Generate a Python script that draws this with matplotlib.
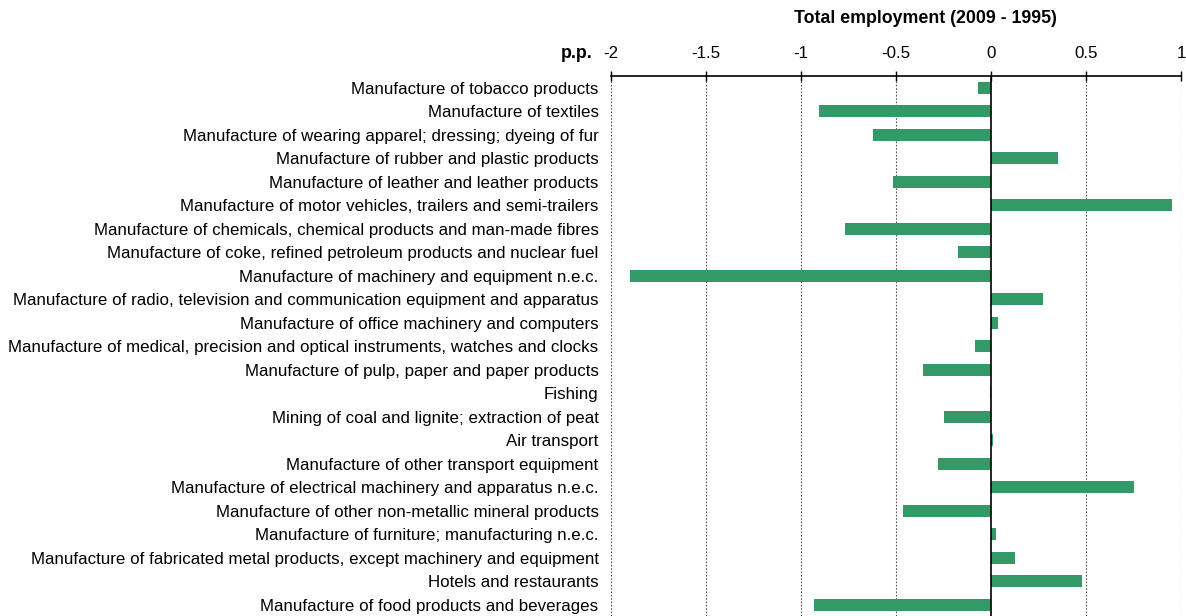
import matplotlib
matplotlib.use("Agg")
import matplotlib.pyplot as plt

plt.rcParams['font.family'] = ['Liberation Sans', 'DejaVu Sans']

sectors = [
    "Manufacture of tobacco products",
    "Manufacture of textiles",
    "Manufacture of wearing apparel; dressing; dyeing of fur",
    "Manufacture of rubber and plastic products",
    "Manufacture of leather and leather products",
    "Manufacture of motor vehicles, trailers and semi-trailers",
    "Manufacture of chemicals, chemical products and man-made fibres",
    "Manufacture of coke, refined petroleum products and nuclear fuel",
    "Manufacture of machinery and equipment n.e.c.",
    "Manufacture of radio, television and communication equipment and apparatus",
    "Manufacture of office machinery and computers",
    "Manufacture of medical, precision and optical instruments, watches and clocks",
    "Manufacture of pulp, paper and paper products",
    "Fishing",
    "Mining of coal and lignite; extraction of peat",
    "Air transport",
    "Manufacture of other transport equipment",
    "Manufacture of electrical machinery and apparatus n.e.c.",
    "Manufacture of other non-metallic mineral products",
    "Manufacture of furniture; manufacturing n.e.c.",
    "Manufacture of fabricated metal products, except machinery and equipment",
    "Hotels and restaurants",
    "Manufacture of food products and beverages",
]
change_pp = [-0.07, -0.905, -0.62, 0.35, -0.515, 0.95, -0.77, -0.175, -1.9,
             0.275, 0.035, -0.085, -0.36, -0.008, -0.25, 0.008, -0.28, 0.75,
             -0.465, 0.025, 0.125, 0.48, -0.93]
xticks = [-2, -1.5, -1, -0.5, 0, 0.5, 1]
xticklabels = ["-2", "-1.5", "-1", "-0.5", "0", "0.5", "1"]

fig = plt.figure(figsize=(11.86, 6.16), dpi=100)
ax = fig.add_axes([0.5152, -0.0008, 0.4806, 0.8774])

pos = list(range(len(sectors)))
ax.barh(pos, change_pp, height=0.52, color="#339966", zorder=3)

ax.set_xlim(-2, 1)
ax.set_ylim(len(sectors) - 0.5, -0.5)

ax.xaxis.tick_top()
ax.set_xticks(xticks)
ax.set_xticklabels(xticklabels, fontsize=12.2)
ax.tick_params(axis='x', direction='inout', length=7, width=1, pad=7)
ax.set_yticks(pos)
ax.set_yticklabels(sectors, fontsize=12.2)
ax.tick_params(axis='y', length=0, pad=9)

for x in xticks:
    if x == 0:
        ax.axvline(0, color="black", linewidth=1.2, zorder=4)
    else:
        ax.axvline(x, color="#555555", linewidth=0.8, linestyle=(0, (1.5, 1.5)), zorder=1)

for side in ["left", "right", "bottom"]:
    ax.spines[side].set_visible(False)
ax.spines["top"].set_linewidth(1.2)

fig.text(0.780, 0.97, "Total employment (2009 - 1995)", ha="center", va="center",
         fontsize=12.8, fontweight="bold")
fig.text(0.500, 0.913, "p.p.", ha="right", va="center", fontsize=12.8, fontweight="bold")

fig.savefig("out.png", dpi=100)
